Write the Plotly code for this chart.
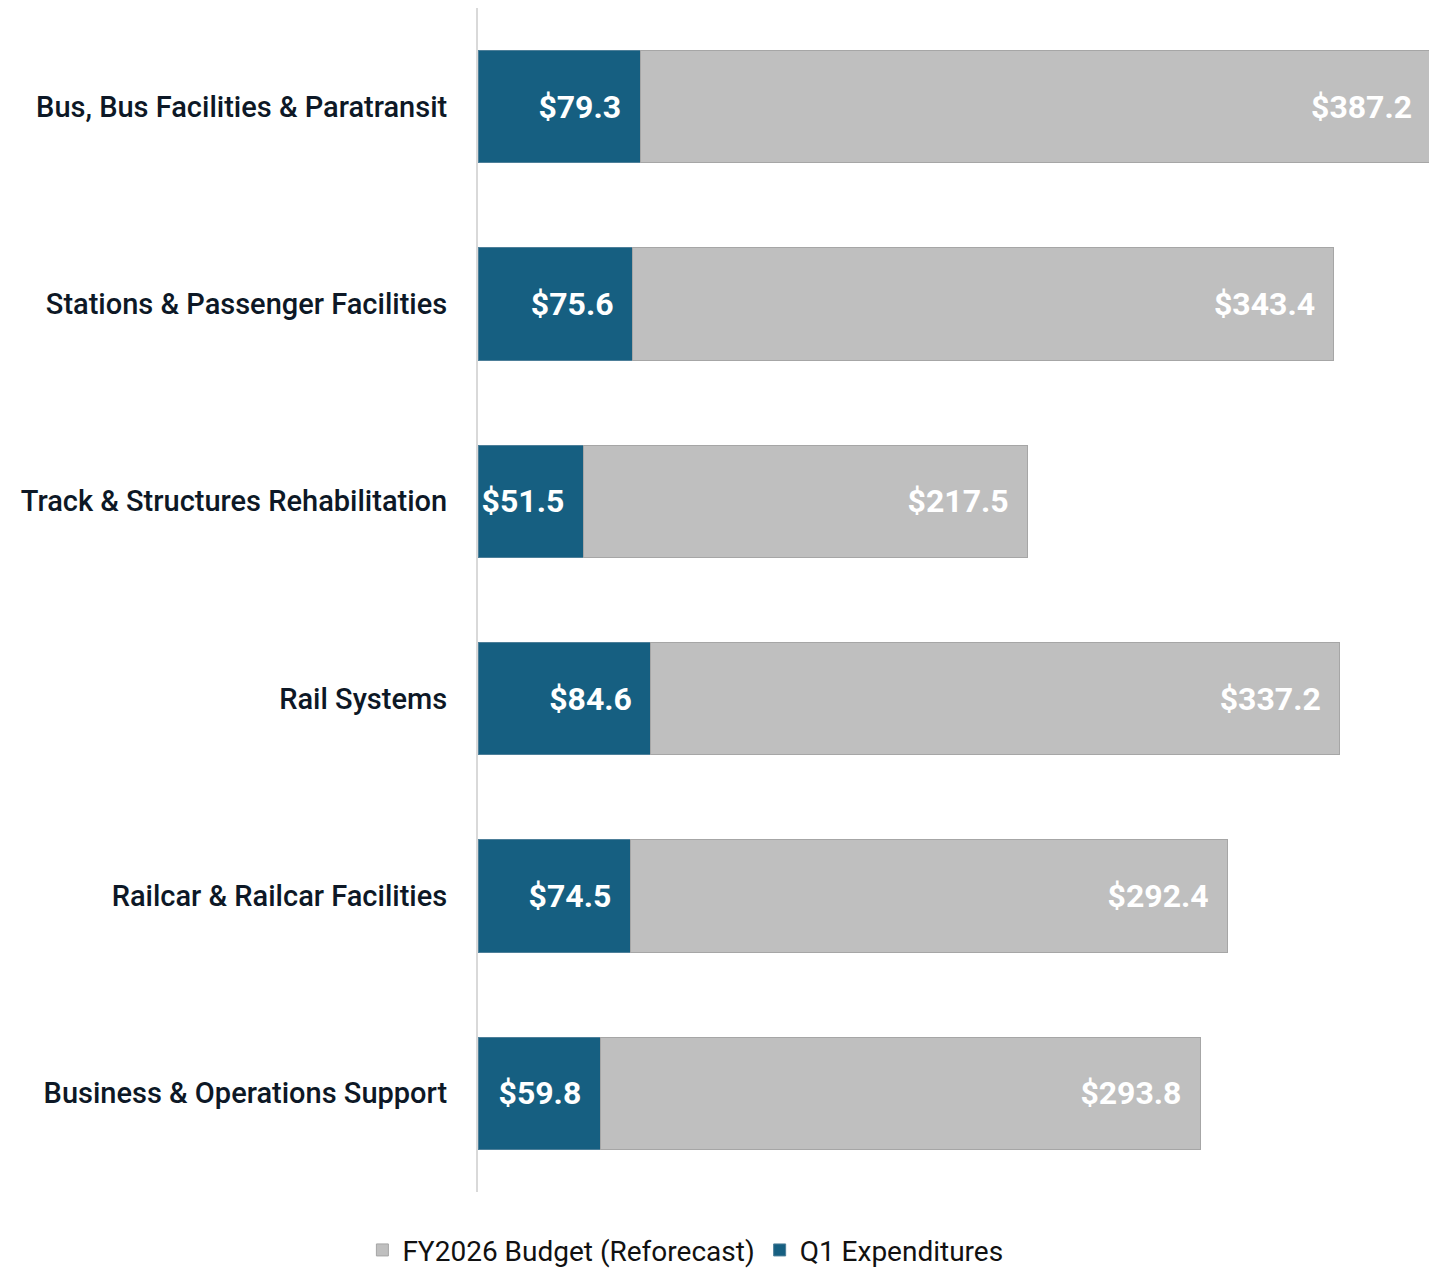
import plotly.graph_objects as go

categories = [
    "Bus, Bus Facilities & Paratransit",
    "Stations & Passenger Facilities",
    "Track & Structures Rehabilitation",
    "Rail Systems",
    "Railcar & Railcar Facilities",
    "Business & Operations Support",
]
q1_expenditures = [79.3, 75.6, 51.5, 84.6, 74.5, 59.8]
fy2026_budget = [387.2, 343.4, 217.5, 337.2, 292.4, 293.8]

BLUE = "#165F81"
GRAY = "#BFBFBF"
NARROW = "Liberation Sans Narrow, Arial Narrow, Roboto, sans-serif"
pad = "\u00a0\u00a0"

fig = go.Figure()
fig.add_trace(go.Bar(
    y=categories, x=q1_expenditures, orientation="h", name="Q1 Expenditures",
    marker=dict(color=BLUE, line=dict(color="#4d7f99", width=1)),
    texttemplate="$%{x:.1f}" + pad, textposition="inside", insidetextanchor="end",
    textangle=0, constraintext="none",
    textfont=dict(family=NARROW, size=32, color="white", weight="bold"),
    legendrank=2, width=0.57,
))
fig.add_trace(go.Bar(
    y=categories, x=fy2026_budget, orientation="h", name="FY2026 Budget (Reforecast)",
    marker=dict(color=GRAY, line=dict(color="#a6a6a6", width=1)),
    texttemplate="$%{x:.1f}" + pad, textposition="inside", insidetextanchor="end",
    textangle=0, constraintext="none",
    textfont=dict(family=NARROW, size=32, color="white", weight="bold"),
    legendrank=1, width=0.57,
))

fig.update_layout(
    barmode="stack",
    width=1429, height=1265,
    margin=dict(l=470, r=6, t=0, b=81),
    plot_bgcolor="white", paper_bgcolor="white",
    showlegend=True,
    legend=dict(orientation="h", xref="container", yref="container",
                x=0.248, xanchor="left", y=0.018, yanchor="middle",
                font=dict(family=NARROW, size=28, color="#111111"),
                itemwidth=30, traceorder="normal"),
    xaxis=dict(range=[0, 466.5], visible=False, showgrid=False, zeroline=False),
    yaxis=dict(autorange="reversed", showline=True, linecolor="#d9d9d9", linewidth=2,
               ticks="", ticklabelstandoff=23,
               tickfont=dict(family="Roboto, Liberation Sans, sans-serif", size=29,
                             color="#0d1826", weight=500)),
)

fig.write_html("out.html")
